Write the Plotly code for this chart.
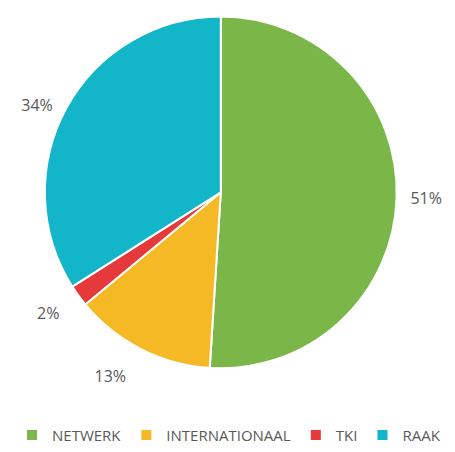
import plotly.graph_objects as go

categories = ["NETWERK", "INTERNATIONAAL", "TKI", "RAAK"]
values = [51, 13, 2, 34]
colors = ["#7AB648", "#F6B926", "#E5393B", "#13B5C9"]

# label spacing (non-breaking-space / blank-line padding to push outside labels outward)
NB = "\u00a0"
label_templates = [
    NB * 2 + "%{percent:.0%}" + NB * 2,
    NB + "<br>" + NB + "%{percent:.0%}" + NB,
    NB + "<br>" + NB * 2 + "%{percent:.0%}" + NB * 2,
    NB * 2 + "%{percent:.0%}" + NB * 2,
]

OFF = 8  # page body margin
W, H = 455 - OFF, 452 - OFF
cx, cy, r = 223 - OFF, 190 - OFF, 182

fig = go.Figure(go.Pie(
    labels=categories,
    values=values,
    sort=False,
    direction="clockwise",
    rotation=0,
    marker=dict(colors=colors, line=dict(color="white", width=2)),
    textposition="outside",
    texttemplate=label_templates,
    textfont=dict(family="Open Sans", size=16, color="#595959"),
    domain=dict(x=[(cx - r) / W, (cx + r) / W], y=[max(0, (H - cy - r) / H), min(1, (H - cy + r) / H)]),
    hoverinfo="label+percent",
    showlegend=True,
))

fig.update_layout(
    width=W, height=H,
    margin=dict(l=0, r=0, t=0, b=0),
    paper_bgcolor="white",
    legend=dict(orientation="h", x=0.5, xanchor="center", y=(H - (438 - OFF)) / H, yanchor="middle",
                itemwidth=30,
                font=dict(family="Open Sans", size=15, color="#595959"), traceorder="normal"),
)

fig.write_html("out.html")
